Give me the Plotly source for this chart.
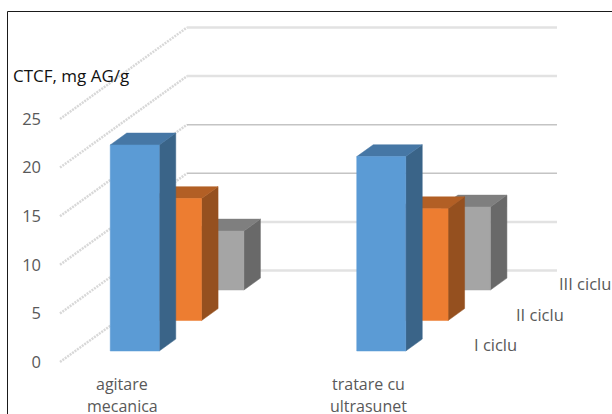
import plotly.graph_objects as go

# Chart data
categories = [["agitare", "mecanica"], ["tratare cu", "ultrasunet"]]
series_names = ["I ciclu", "II ciclu", "III ciclu"]
cycle_1 = [21.2, 20.0]
cycle_2 = [12.55, 11.5]
cycle_3 = [6.07, 8.54]
value_ticks = [0, 5, 10, 15, 20, 25]

# Face colours per series: front, side, top
front_colors = ["#5B9BD5", "#ED7D31", "#A5A5A5"]
side_colors = ["#3A6488", "#95501F", "#696969"]
top_colors = ["#4677A5", "#B25F25", "#7F7F7F"]

# Oblique projection of the 3-D chart box onto the flat axes
WIDTH, HEIGHT = 612, 414
PX_PER_CAT = 246.5
PX_PER_VALUE = 9.72
ORIGIN_X, ORIGIN_Y = 122.0, 362.0
RUN = 42.33 / PX_PER_CAT      # x shift for one depth slot
RISE = 30.5 / PX_PER_VALUE    # y shift for one depth slot
BAR_W = 49 / PX_PER_CAT
BAR_LEFT = -27 / PX_PER_CAT
BAR_FRONT, BAR_BACK = 0.36, 0.75
FLOOR_LEFT = -62 / PX_PER_CAT
FLOOR_W = 370 / PX_PER_CAT
N_SLOTS = 3
LABEL_X, LABEL_V = 1.42, 1.75  # depth-axis label anchor at the front slot


def project(x, v, d):
    return x + RUN * d, v + RISE * d


def polygon(corners, color, name):
    pts = [project(*c) for c in corners]
    xs = [p[0] for p in pts] + [pts[0][0]]
    ys = [p[1] for p in pts] + [pts[0][1]]
    return go.Scatter(x=xs, y=ys, mode="lines", fill="toself", fillcolor=color,
                      line=dict(color=color, width=0.5), name=name,
                      showlegend=False, hoverinfo="skip")


fig = go.Figure()

# Gridlines: along the side wall, then across the back wall
for v in value_ticks:
    x0, y0 = project(FLOOR_LEFT, v, 0)
    x1, y1 = project(FLOOR_LEFT, v, N_SLOTS)
    x2, y2 = project(FLOOR_LEFT + FLOOR_W, v, N_SLOTS)
    fig.add_trace(go.Scatter(x=[x0, x1], y=[y0, y1], mode="lines",
                             line=dict(color="#d8d8d8", width=2.5, dash="2px,1px"),
                             showlegend=False, hoverinfo="skip"))
    grid_color = "#c4c4c4" if v in (10, 15) else "#e2e2e2"
    grid_width = 1.5 if v in (10, 15) else 2.5
    fig.add_trace(go.Scatter(x=[x1, x2], y=[y1, y2], mode="lines",
                             line=dict(color=grid_color, width=grid_width),
                             showlegend=False, hoverinfo="skip"))

# Bars, painted back to front
all_series = [cycle_1, cycle_2, cycle_3]
for cat in range(len(categories)):
    for s in reversed(range(len(all_series))):
        v = all_series[s][cat]
        left = cat + BAR_LEFT
        right = left + BAR_W
        front = s + BAR_FRONT
        back = s + BAR_BACK
        name = series_names[s]
        fig.add_trace(polygon([(right, 0, front), (right, 0, back),
                               (right, v, back), (right, v, front)],
                              side_colors[s], name))
        fig.add_trace(polygon([(left, v, front), (right, v, front),
                               (right, v, back), (left, v, back)],
                              top_colors[s], name))
        fig.add_trace(polygon([(left, 0, front), (right, 0, front),
                               (right, v, front), (left, v, front)],
                              front_colors[s], name))

fig.update_layout(
    width=WIDTH, height=HEIGHT,
    margin=dict(l=0, r=0, t=0, b=0),
    paper_bgcolor="white", plot_bgcolor="white",
    showlegend=False,
    font=dict(family="Open Sans", color="#595959", size=16),
    xaxis=dict(range=[-ORIGIN_X / PX_PER_CAT, (WIDTH - ORIGIN_X) / PX_PER_CAT],
               domain=[0, 1], visible=False, fixedrange=True),
    yaxis=dict(range=[-(HEIGHT - ORIGIN_Y) / PX_PER_VALUE, ORIGIN_Y / PX_PER_VALUE],
               domain=[0, 1], anchor="free", position=41 / WIDTH,
               tickmode="array", tickvals=value_ticks,
               ticktext=[str(t) for t in value_ticks],
               showgrid=False, zeroline=False, showline=False, ticks="",
               tickfont=dict(family="Open Sans", color="#595959", size=16.5),
               fixedrange=True),
    shapes=[
        # Chart frame: only the top and left edges fall inside the canvas
        dict(type="line", xref="paper", yref="paper", x0=7.5 / WIDTH, x1=1,
             y0=1 - 11.5 / HEIGHT, y1=1 - 11.5 / HEIGHT,
             line=dict(color="#1a1a1a", width=1)),
        dict(type="line", xref="paper", yref="paper", x0=7.5 / WIDTH, x1=7.5 / WIDTH,
             y0=0, y1=1 - 11.5 / HEIGHT,
             line=dict(color="#1a1a1a", width=1)),
    ],
)

annotations = [dict(text="CTCF, mg AG/g", xref="paper", yref="paper",
                    x=11 / WIDTH, y=1 - 75 / HEIGHT, xanchor="left", yanchor="middle",
                    showarrow=False, font=dict(family="Open Sans", color="#111111", size=17))]

# Category labels, one annotation per line for the wide line spacing
for i, lines in enumerate(categories):
    for line, py in zip(lines, (384, 406)):
        annotations.append(dict(text=line, x=i, xref="x", yref="paper",
                                y=1 - py / HEIGHT, xanchor="center", yanchor="middle",
                                showarrow=False))

# Depth-axis labels, stepping back with each series
for s, name in enumerate(series_names):
    x, v = project(LABEL_X, LABEL_V, s)
    annotations.append(dict(text=name, x=x, y=v, xref="x", yref="y", xanchor="left",
                            yanchor="middle", showarrow=False,
                            font=dict(family="Open Sans", color="#595959", size=16.5)))
fig.update_layout(annotations=annotations)

fig.write_html("out.html")
